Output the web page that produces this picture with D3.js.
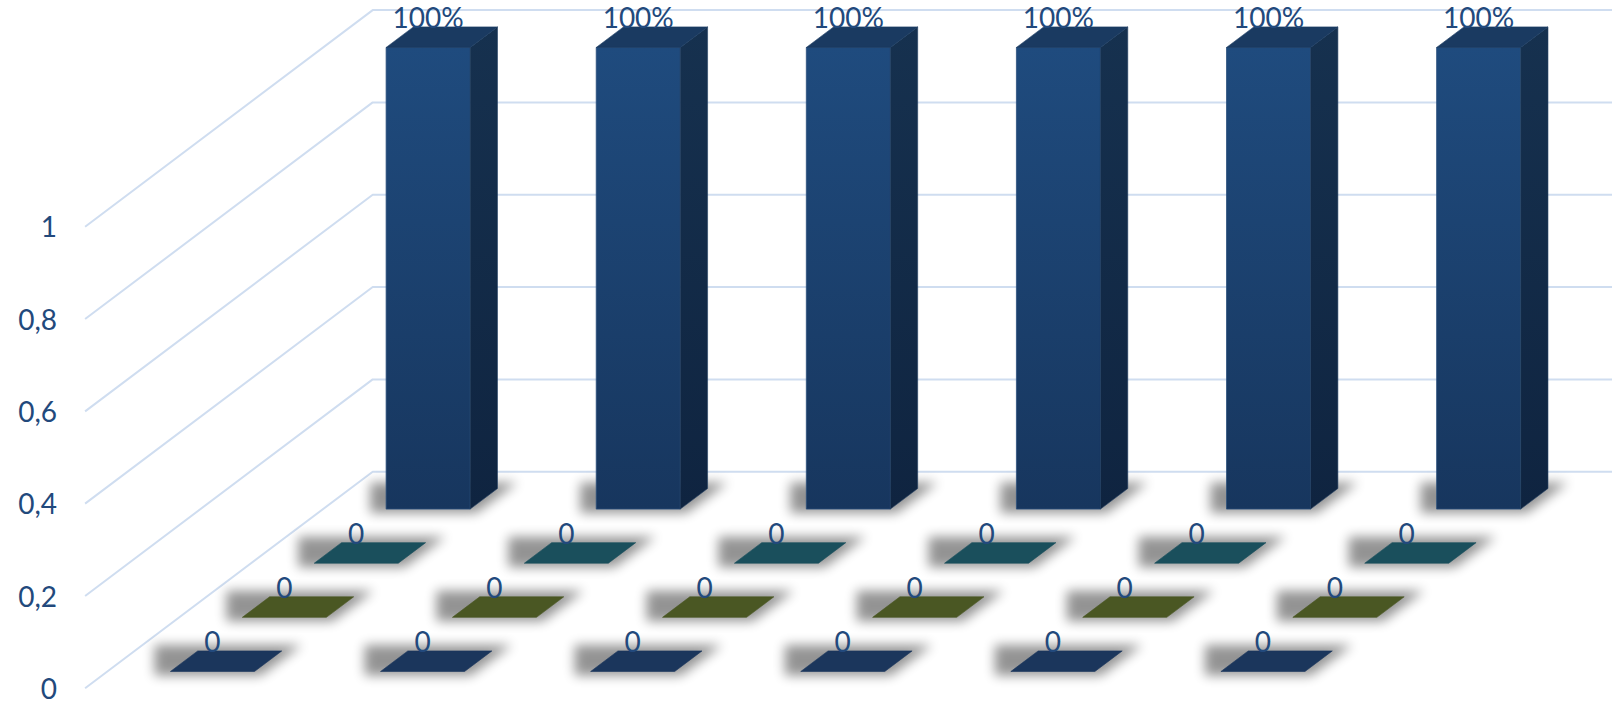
<!DOCTYPE html>
<html>
<head>
<meta charset="utf-8">
<script src="https://cdn.jsdelivr.net/npm/d3@7"></script>
<style>
  html, body { margin: 0; padding: 0; background: #ffffff; }
  svg { display: block; }
  text { font-family: Lato, "Open Sans", "Liberation Sans", sans-serif; }
</style>
</head>
<body>
<div id="chart"></div>
<script>
// ---------------- data ----------------
const categories = ["A", "B", "C", "D", "E", "F"];
const seriesNames = ["Reihe 1", "Reihe 2", "Reihe 3", "Reihe 4"]; // front -> back
const reihe1 = [0, 0, 0, 0, 0, 0];
const reihe2 = [0, 0, 0, 0, 0, 0];
const reihe3 = [0, 0, 0, 0, 0, 0];
const reihe4 = [1, 1, 1, 1, 1, 1];
const yTicks = [0, 0.2, 0.4, 0.6, 0.8, 1];
const yTickLabels = ["0", "0,2", "0,4", "0,6", "0,8", "1"];

// ---------------- styles ----------------
const tileColors = ["#1b365c", "#4a5723", "#1a4f5c", "#1a3a61"];
const labelFormats = [d3.format("d"), d3.format("d"), d3.format("d"), d3.format(".0%")];

// ---------------- layout ----------------
const W = 1612, H = 704;
const x0 = 372.7, yBase = 471.7, yTop = 10.1;
const band = 210.1;
const nRows = 4;
const stepVec = [-71.9, 54.15];   // screen shift per depth row (toward viewer)
const faceFront = 0.69, faceBack = 0.31;

const x = d3.scaleBand().domain(categories)
  .range([x0, x0 + categories.length * band])
  .paddingInner(0.6).paddingOuter(0.3);
const y = d3.scaleLinear().domain([0, 1]).range([yBase, yTop]);
const depth = d3.scaleLinear().domain([0, 1]).range([0, 1]);
function P(px, v, d) { return [px + depth(d) * stepVec[0], y(v) + depth(d) * stepVec[1]]; }

const svg = d3.select("#chart").append("svg").attr("width", W).attr("height", H);
const defs = svg.append("defs");
defs.append("filter").attr("id", "sh")
  .attr("x", "-50%").attr("y", "-150%").attr("width", "200%").attr("height", "400%")
  .append("feGaussianBlur").attr("stdDeviation", 6);
const gFront = defs.append("linearGradient").attr("id", "gFront").attr("x1", 0).attr("y1", 0).attr("x2", 0).attr("y2", 1);
gFront.append("stop").attr("offset", "0%").attr("stop-color", "#1f4b7e");
gFront.append("stop").attr("offset", "100%").attr("stop-color", "#17365e");
const gSide = defs.append("linearGradient").attr("id", "gSide").attr("x1", 0).attr("y1", 0).attr("x2", 0).attr("y2", 1);
gSide.append("stop").attr("offset", "0%").attr("stop-color", "#16314f");
gSide.append("stop").attr("offset", "100%").attr("stop-color", "#0f2440");

// ---------------- gridlines (walls) ----------------
const grid = svg.append("g");
yTicks.forEach(t => {
  const a = P(x0, t, nRows), b = P(x0, t, 0);
  grid.append("path")
    .attr("d", `M${a[0]},${a[1]}L${b[0]},${b[1]}L${W},${b[1]}`)
    .attr("fill", "none").attr("stroke", "#cfddf0").attr("stroke-width", 2)
    .attr("stroke-linejoin", "round");
});

// ---------------- y axis (front-left edge) ----------------
const yFront = d3.scaleLinear().domain([0, 1]).range([P(x0, 0, nRows)[1], P(x0, 1, nRows)[1]]);
const axisG = svg.append("g").attr("transform", `translate(${P(x0, 0, nRows)[0]},0)`)
  .call(d3.axisLeft(yFront).tickValues(yTicks).tickSize(0).tickPadding(28)
    .tickFormat((d, i) => yTickLabels[i]));
axisG.select(".domain").remove();
axisG.selectAll("text").attr("font-size", 28).attr("fill", "#22497c")
  .attr("dy", "0.36em").style("font-family", "Lato, 'Open Sans', sans-serif");

// ---------------- boxes, back to front ----------------
const allSeries = [reihe1, reihe2, reihe3, reihe4];
const pts = arr => arr.map(p => p.join(",")).join(" ");
for (let s = allSeries.length - 1; s >= 0; s--) {
  const row = allSeries.length - 1 - s; // 0 = back
  const vals = allSeries[s];
  const dF = row + faceFront, dB = row + faceBack;
  const g = svg.append("g");
  // shadows
  vals.forEach((v, i) => {
    const xl = x(categories[i]), xr = xl + x.bandwidth();
    const fl = P(xl, 0, dF), fr = P(xr, 0, dF), br = P(xr, 0, dB);
    g.append("polygon")
      .attr("points", pts([[fl[0] - 16, fl[1] + 4], [fr[0] + 6, fr[1] + 4],
                           [br[0] + 20, br[1] - 6], [fl[0] - 16, br[1] - 6]]))
      .attr("fill", "#000").attr("opacity", 0.42)
      .attr("filter", "url(#sh)");
  });
  vals.forEach((v, i) => {
    const xl = x(categories[i]), xr = xl + x.bandwidth();
    if (v !== 0) {
      g.append("polygon").attr("points", pts([P(xl, 0, dF), P(xr, 0, dF), P(xr, v, dF), P(xl, v, dF)]))
        .attr("fill", "url(#gFront)").attr("stroke", "#2b4f7c").attr("stroke-width", 0.8);
      g.append("polygon").attr("points", pts([P(xr, 0, dF), P(xr, 0, dB), P(xr, v, dB), P(xr, v, dF)]))
        .attr("fill", "url(#gSide)").attr("stroke", "#223f63").attr("stroke-width", 0.6);
    }
    g.append("polygon").attr("points", pts([P(xl, v, dF), P(xr, v, dF), P(xr, v, dB), P(xl, v, dB)]))
      .attr("fill", tileColors[s]).attr("stroke", tileColors[s]).attr("stroke-width", 0.6);
  });
  // labels
  vals.forEach((v, i) => {
    const xl = x(categories[i]), xr = xl + x.bandwidth();
    const cx = (P(xl, v, dF)[0] + P(xr, v, dF)[0]) / 2;
    const by = P(xl, v, dB)[1] + 1.5;
    g.append("text").attr("x", cx).attr("y", by).attr("text-anchor", "middle")
      .attr("font-size", 28).attr("fill", "#22497c").text(labelFormats[s](v));
  });
}
</script>
</body>
</html>
